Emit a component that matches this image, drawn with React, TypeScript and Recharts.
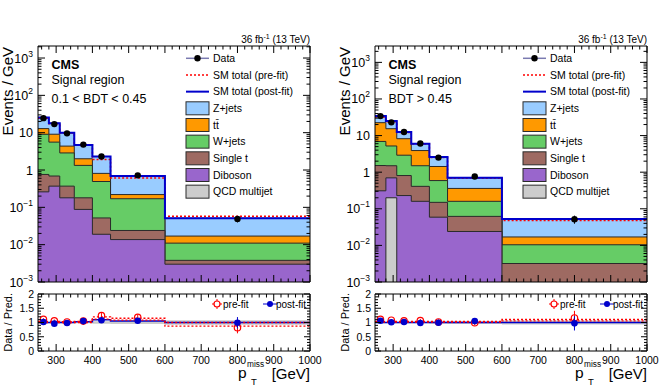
import React from "react";
import { ComposedChart, Area, Line, Scatter, XAxis, YAxis, ErrorBar } from "recharts";

const FONT = "'Liberation Sans', Arial, Helvetica, sans-serif";

// p_T^miss binning [GeV]
const binEdges = [250, 280, 310, 350, 400, 450, 600, 1000];
const binCenters = [265, 295, 330, 375, 425, 525, 800];

// left: 0.1 < BDT < 0.45 (events / GeV per process)
const zjetsA = [12.6, 8.8, 5.6, 2.7, 1.49, 0.47, 0.034];
const ttbarA = [3.8, 3.5, 1.5, 0.67, 0.32, 0.05, 0.006];
const wjetsA = [8.3, 4.9, 2.5, 1.15, 0.44, 0.146, 0.0072];
const singleTA = [0.5, 0.32, 0.19, 0.092, 0.033, 0.0103, 0.0008];
const dibosonA = [0.26, 0.37, 0.18, 0.088, 0.019, 0.0137, 0.003];
const qcdA = [0, 0, 0, 0, 0, 0, 0];
const dataA = [24.5, 17, 9.6, 4.8, 2.3, 0.72, 0.049];
const prefitA = [24.5, 17.3, 9.8, 4.6, 1.9, 0.61, 0.058];
const ratioPreA = [1.11, 1.06, 1.02, 1.05, 1.24, 1.18, 0.82];
const ratioPostA = [1.02, 0.96, 0.98, 1.05, 1.08, 1.06, 0.99];
const ratioErrA = [0.04, 0.045, 0.045, 0.05, 0.09, 0.1, 0.2];
const bandA = [0.03, 0.03, 0.03, 0.03, 0.04, 0.05, 0.08];
const postLineA = [1, 1, 1, 1.03, 1.1, 1.05, 1];
const preHiA = [1.04, 1.04, 1.03, 1.04, 1.2, 1.15, 1.0];
const preLoA = [1.0, 1.0, 1.0, 1.0, 1.12, 1.08, 0.87];

// right: BDT > 0.45
const zjetsB = [11.5, 9.6, 4.3, 2.1, 1.17, 0.34, 0.036];
const ttbarB = [15.6, 10.2, 5.3, 2.4, 0.84, 0.2, 0.0066];
const wjetsB = [5.4, 3.7, 2.1, 1.09, 0.44, 0.098, 0.0072];
const singleTB = [1.21, 0.8, 0.58, 0.25, 0.091, 0.038, 0.0027];
const dibosonB = [0.31, 0.5, 0.23, 0.16, 0.059, 0.024, 0.0005];
const qcdB = [0, 0.2, 0, 0, 0, 0, 0];
const dataB = [34, 23, 12.5, 6.1, 2.5, 0.76, 0.052];
const prefitB = [32, 24, 12.2, 5.9, 2.5, 0.68, 0.048];
const ratioPreB = [1.11, 1.08, 1.06, 1.07, 1.02, 0.99, 1.16];
const ratioPostB = [1.06, 1.01, 1.02, 0.98, 0.99, 1.05, 0.97];
const ratioErrB = [0.03, 0.04, 0.045, 0.057, 0.09, 0.094, 0.25];
const bandB = [0.03, 0.03, 0.03, 0.03, 0.04, 0.05, 0.07];
const postLineB = [1, 1, 1, 1, 1, 1, 1];
const preHiB = [1.04, 1.04, 1.04, 1.04, 1.04, 1.04, 1.11];
const preLoB = [1.01, 1.01, 1.01, 1.01, 1.01, 1.01, 1.06];

const legendNames = ["Data", "SM total (pre-fit)", "SM total (post-fit)", "Z+jets", "tt\u0304", "W+jets", "Single t", "Diboson", "QCD multijet"];

const colors = {
  z: "#99ccff",
  tt: "#ff9900",
  w: "#66cc66",
  st: "#9e6a62",
  db: "#9966cc",
  qcd: "#cccccc",
};
const EDGE = "#2a2a2a";
const BLUE = "#0000cc";
const RED = "#ff0000";

const YMIN = 1e-3;
const FLOOR = 1e-5;

type Region = {
  z: number[]; tt: number[]; w: number[]; st: number[]; db: number[]; qcd: number[];
  data: number[]; prefit: number[];
  ratioPre: number[]; ratioPost: number[]; ratioErr: number[];
  band: number[]; postLine: number[]; preHi: number[]; preLo: number[];
  ymax: number; text: string[];
};

const regionA: Region = {
  z: zjetsA, tt: ttbarA, w: wjetsA, st: singleTA, db: dibosonA, qcd: qcdA,
  data: dataA, prefit: prefitA, ratioPre: ratioPreA, ratioPost: ratioPostA, ratioErr: ratioErrA,
  band: bandA, postLine: postLineA, preHi: preHiA, preLo: preLoA,
  ymax: 2100, text: ["Signal region", "0.1 < BDT < 0.45"],
};
const regionB: Region = {
  z: zjetsB, tt: ttbarB, w: wjetsB, st: singleTB, db: dibosonB, qcd: qcdB,
  data: dataB, prefit: prefitB, ratioPre: ratioPreB, ratioPost: ratioPostB, ratioErr: ratioErrB,
  band: bandB, postLine: postLineB, preHi: preHiB, preLo: preLoB,
  ymax: 2800, text: ["Signal region", "BDT > 0.45"],
};

const xTicks = Array.from({ length: 38 }, (_, i) => 260 + 20 * i);
const ratioTicks = Array.from({ length: 21 }, (_, i) => Number((i * 0.1).toFixed(1)));
function logTicks(max: number) {
  const out: number[] = [];
  for (let e = -3; e <= 3; e++) {
    for (let m = 1; m <= 9; m++) {
      const v = Number((m * Math.pow(10, e)).toPrecision(3));
      if (v <= max) out.push(v);
    }
  }
  return out;
}
const isDecade = (v: number) => Math.abs(Math.log10(v) - Math.round(Math.log10(v))) < 1e-6;

// stacked histogram, built bottom-up (QCD, Diboson, Single t, W, tt, Z)
function stackRows(r: Region) {
  const f = (v: number) => Math.max(v, FLOOR);
  return binEdges.map((x, i) => {
    const j = Math.min(i, binCenters.length - 1);
    const qcd = r.qcd[j];
    const db = qcd + r.db[j];
    const st = db + r.st[j];
    const w = st + r.w[j];
    const tt = w + r.tt[j];
    const z = tt + r.z[j];
    return { x, qcd: f(qcd), db: f(db), st: f(st), w: f(w), tt: f(tt), z: f(z), pre: r.prefit[j] };
  });
}

function ratioRows(r: Region) {
  return binEdges.map((x, i) => {
    const j = Math.min(i, binCenters.length - 1);
    return { x, band: [1 - r.band[j], 1 + r.band[j]], post: r.postLine[j], hi: r.preHi[j], lo: r.preLo[j] };
  });
}

const xTick = (side: "top" | "bottom", labels: boolean) => (p: any) => {
  const v = p.payload.value as number;
  const major = v % 100 === 0;
  const len = major ? 7 : 3.5;
  const dir = side === "bottom" ? -1 : 1;
  return (
    <g>
      <line x1={p.x} x2={p.x} y1={p.y} y2={p.y + dir * len} stroke="#000" strokeWidth={1} />
      {labels && major ? (
        <text x={p.x} y={p.y + 12.5} textAnchor="middle" fontSize={10.5} fontFamily={FONT} fill="#000">
          {v}
        </text>
      ) : null}
    </g>
  );
};

const logTick = (side: "left" | "right") => (p: any) => {
  const v = p.payload.value as number;
  const major = isDecade(v);
  const len = major ? 7 : 3.5;
  const dir = side === "left" ? 1 : -1;
  const e = Math.round(Math.log10(v));
  let label: React.ReactNode = null;
  if (side === "left" && major) {
    label = (
      <text x={p.x - 5} y={p.y + 4.5} textAnchor="end" fontSize={12.5} fontFamily={FONT} fill="#000">
        {e === 0 ? "1" : e === 1 ? "10" : (
          <>
            10
            <tspan dy={-6} fontSize={8.5}>{e < 0 ? "\u2212" + -e : e}</tspan>
          </>
        )}
      </text>
    );
  }
  return (
    <g>
      <line x1={p.x} x2={p.x + dir * len} y1={p.y} y2={p.y} stroke="#000" strokeWidth={1} />
      {label}
    </g>
  );
};

const linTick = (side: "left" | "right") => (p: any) => {
  const v = p.payload.value as number;
  const major = Math.abs(v * 2 - Math.round(v * 2)) < 1e-6;
  const len = major ? 6 : 3;
  const dir = side === "left" ? 1 : -1;
  return (
    <g>
      <line x1={p.x} x2={p.x + dir * len} y1={p.y} y2={p.y} stroke="#000" strokeWidth={1} />
      {side === "left" && major ? (
        <text x={p.x - 4} y={p.y + 3.8} textAnchor="end" fontSize={10.5} fontFamily={FONT} fill="#000">
          {v}
        </text>
      ) : null}
    </g>
  );
};

// axes get 1px of room each (a 0px axis is not drawn), margins are trimmed by that pixel
const axisCommon = {
  tickSize: 0,
  tickMargin: 0,
  tickLine: false,
  interval: 0 as const,
  allowDataOverflow: true,
  axisLine: { stroke: "#000", strokeWidth: 1 },
};

const stackOrder: { key: keyof typeof colors }[] = [
  { key: "z" }, { key: "tt" }, { key: "w" }, { key: "st" }, { key: "db" }, { key: "qcd" },
];

function MainPlot({ r, pw, pl, pr }: { r: Region; pw: number; pl: number; pr: number }) {
  const rows = stackRows(r);
  const pts = binCenters.map((x, i) => ({ x, y: r.data[i], e: r.data[i] * r.ratioErr[i] }));
  const yt = logTicks(r.ymax);
  return (
    <ComposedChart width={pw} height={290} data={rows} margin={{ top: 45, right: pw - pr - 1, bottom: 7, left: pl - 1 }}>
      <XAxis xAxisId="b" dataKey="x" type="number" domain={[250, 1000]} ticks={xTicks} height={1} tick={xTick("bottom", false)} {...axisCommon} />
      <XAxis xAxisId="t" orientation="top" dataKey="x" type="number" domain={[250, 1000]} ticks={xTicks} height={1} tick={xTick("top", false)} {...axisCommon} />
      <YAxis yAxisId="l" type="number" scale="log" domain={[YMIN, r.ymax]} ticks={yt} width={1} tick={logTick("left")} {...axisCommon} />
      <YAxis yAxisId="r" orientation="right" type="number" scale="log" domain={[YMIN, r.ymax]} ticks={yt} width={1} tick={logTick("right")} {...axisCommon} />
      {stackOrder.map((s) => (
        <Area
          key={s.key}
          xAxisId="b"
          yAxisId="l"
          dataKey={s.key}
          type="stepAfter"
          baseValue={YMIN}
          fill={colors[s.key]}
          fillOpacity={1}
          stroke={EDGE}
          strokeWidth={1}
          dot={false}
          activeDot={false}
          isAnimationActive={false}
        />
      ))}
      <Line xAxisId="t" yAxisId="r" dataKey="pre" type="stepAfter" stroke={RED} strokeWidth={1.5} strokeDasharray="2 2" dot={false} activeDot={false} isAnimationActive={false} />
      <Line xAxisId="b" yAxisId="l" dataKey="z" type="stepAfter" stroke={BLUE} strokeWidth={2} dot={false} activeDot={false} isAnimationActive={false} />
      <Scatter
        xAxisId="b"
        yAxisId="l"
        data={pts}
        dataKey="y"
        isAnimationActive={false}
        shape={(p: any) => <circle cx={p.cx} cy={p.cy} r={3.2} fill="#000" />}
      >
        <ErrorBar dataKey="e" direction="y" width={0} stroke="#000" strokeWidth={1} isAnimationActive={false} />
      </Scatter>
    </ComposedChart>
  );
}

function RatioPlot({ r, pw, pl, pr }: { r: Region; pw: number; pl: number; pr: number }) {
  const rows = ratioRows(r);
  const pre = binCenters.map((x, i) => ({ x, y: r.ratioPre[i], e: r.ratioErr[i] }));
  const post = binCenters.map((x, i) => ({ x, y: r.ratioPost[i], e: r.ratioErr[i] }));
  return (
    <ComposedChart width={pw} height={102} data={rows} margin={{ top: 8, right: pw - pr - 1, bottom: 35, left: pl - 1 }}>
      <XAxis xAxisId="b" dataKey="x" type="number" domain={[250, 1000]} ticks={xTicks} height={1} tick={xTick("bottom", true)} {...axisCommon} />
      <XAxis xAxisId="t" orientation="top" dataKey="x" type="number" domain={[250, 1000]} ticks={xTicks} height={1} tick={xTick("top", false)} {...axisCommon} />
      <YAxis yAxisId="l" type="number" domain={[0, 2]} ticks={ratioTicks} width={1} tick={linTick("left")} {...axisCommon} />
      <YAxis yAxisId="r" orientation="right" type="number" domain={[0, 2]} ticks={ratioTicks} width={1} tick={linTick("right")} {...axisCommon} />
      <Area xAxisId="b" yAxisId="l" dataKey="band" type="stepAfter" fill="#b4b4b4" fillOpacity={0.7} stroke="none" dot={false} activeDot={false} isAnimationActive={false} />
      <Line xAxisId="b" yAxisId="l" dataKey="post" type="stepAfter" stroke={BLUE} strokeWidth={1.5} dot={false} activeDot={false} isAnimationActive={false} />
      <Line xAxisId="t" yAxisId="r" dataKey="hi" type="stepAfter" stroke={RED} strokeWidth={1.3} strokeDasharray="2 2" dot={false} activeDot={false} isAnimationActive={false} />
      <Line xAxisId="t" yAxisId="r" dataKey="lo" type="stepAfter" stroke={RED} strokeWidth={1.3} strokeDasharray="2 2" dot={false} activeDot={false} isAnimationActive={false} />
      <Scatter
        xAxisId="b"
        yAxisId="l"
        data={pre}
        dataKey="y"
        isAnimationActive={false}
        shape={(p: any) => <circle cx={p.cx} cy={p.cy} r={3.2} fill="#fff" fillOpacity={0} stroke={RED} strokeWidth={1.2} />}
      >
        <ErrorBar dataKey="e" direction="y" width={0} stroke={RED} strokeWidth={1} isAnimationActive={false} />
      </Scatter>
      <Scatter
        xAxisId="b"
        yAxisId="l"
        data={post}
        dataKey="y"
        isAnimationActive={false}
        shape={(p: any) => <circle cx={p.cx} cy={p.cy} r={3.3} fill={BLUE} />}
      >
        <ErrorBar dataKey="e" direction="y" width={0} stroke={BLUE} strokeWidth={1} isAnimationActive={false} />
      </Scatter>
    </ComposedChart>
  );
}

const legendFill: (string | null)[] = [null, null, null, colors.z, colors.tt, colors.w, colors.st, colors.db, colors.qcd];

function Labels({ ox, pl, pr, r }: { ox: number; pl: number; pr: number; r: Region }) {
  const bx = pl + 148;
  const tx = pl + 175;
  return (
    <g transform={`translate(${ox},0)`} fontFamily={FONT} fill="#000">
      <text x={pr} y={42.5} textAnchor="end" fontSize={10}>
        36 fb<tspan dy={-4} fontSize={7}>-1</tspan>
        <tspan dy={4}> (13 TeV)</tspan>
      </text>
      <text x={pl + 13.5} y={69} fontSize={12.5} fontWeight="bold">CMS</text>
      <text x={pl + 13.5} y={83.5} fontSize={12.5}>{r.text[0]}</text>
      <text x={pl + 13.5} y={103} fontSize={12.5}>{r.text[1]}</text>
      <text transform={`translate(${pl - 25},47) rotate(-90)`} textAnchor="end" fontSize={15}>Events / GeV</text>
      <text transform={`translate(${pl - 26.5},293) rotate(-90)`} textAnchor="end" fontSize={11}>Data / Pred.</text>

      {legendNames.map((name, i) => {
        const cy = 58.3 + 16.67 * i;
        let mark: React.ReactNode;
        if (i === 0) {
          mark = (
            <g>
              <line x1={bx} x2={bx + 23} y1={cy} y2={cy} stroke="#7a7ab0" strokeWidth={1.5} />
              <circle cx={bx + 11.5} cy={cy} r={3.2} fill="#000" />
            </g>
          );
        } else if (i === 1) {
          mark = <line x1={bx} x2={bx + 23} y1={cy} y2={cy} stroke={RED} strokeWidth={1.5} strokeDasharray="2 2" />;
        } else if (i === 2) {
          mark = <line x1={bx} x2={bx + 23} y1={cy} y2={cy} stroke={BLUE} strokeWidth={2} />;
        } else {
          mark = <rect x={bx} y={cy - 6.5} width={23} height={13} fill={legendFill[i] as string} stroke={EDGE} strokeWidth={1} />;
        }
        return (
          <g key={name}>
            {mark}
            <text x={tx} y={cy + 3.8} fontSize={10.5}>{name}</text>
          </g>
        );
      })}

      <line x1={pl + 179} x2={pl + 179} y1={299} y2={309} stroke={RED} strokeWidth={1} />
      <line x1={pl + 174} x2={pl + 184} y1={304} y2={304} stroke={RED} strokeWidth={1} />
      <circle cx={pl + 179} cy={304} r={3} fill="#fff" stroke={RED} strokeWidth={1.2} />
      <text x={pl + 185} y={307.5} fontSize={10}>pre-fit</text>
      <line x1={pl + 225} x2={pl + 239} y1={304} y2={304} stroke={BLUE} strokeWidth={1} />
      <circle cx={pl + 232} cy={304} r={3} fill={BLUE} />
      <text x={pl + 238} y={307.5} fontSize={10}>post-fit</text>

      <text x={pr - 72} y={378} fontSize={15.5}>p</text>
      <text x={pr - 63} y={367} fontSize={8.3}>miss</text>
      <text x={pr - 59} y={385} fontSize={9.5}>T</text>
      <text x={pr} y={378.5} fontSize={15} textAnchor="end">[GeV]</text>
    </g>
  );
}

function Panel({ ox, pw, pl, pr, r }: { ox: number; pw: number; pl: number; pr: number; r: Region }) {
  return (
    <div style={{ position: "absolute", left: ox, top: 0, width: pw, height: 387 }}>
      <div style={{ position: "absolute", left: 0, top: 0 }}>
        <MainPlot r={r} pw={pw} pl={pl} pr={pr} />
      </div>
      <div style={{ position: "absolute", left: 0, top: 285 }}>
        <RatioPlot r={r} pw={pw} pl={pl} pr={pr} />
      </div>
    </div>
  );
}

export default function App() {
  return (
    <div style={{ position: "absolute", left: 0, top: 0, width: 663, height: 387, background: "#fff", fontFamily: FONT }}>
      <Panel ox={0} pw={331} pl={38} pr={310} r={regionA} />
      <Panel ox={333} pw={330} pl={42} pr={314} r={regionB} />
      <svg width={663} height={387} style={{ position: "absolute", left: 0, top: 0, pointerEvents: "none" }}>
        <Labels ox={0} pl={38} pr={310} r={regionA} />
        <Labels ox={333} pl={42} pr={314} r={regionB} />
      </svg>
    </div>
  );
}
